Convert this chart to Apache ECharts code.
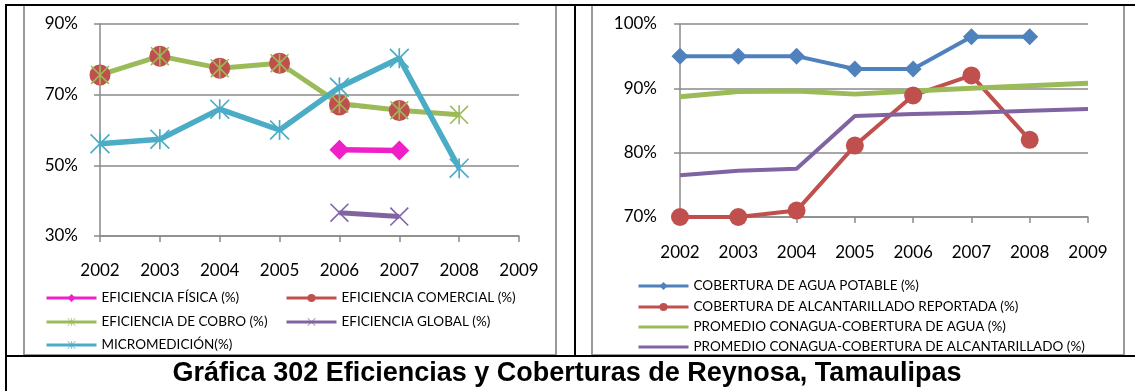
<!DOCTYPE html>
<html><head><meta charset="utf-8">
<script src="https://cdn.jsdelivr.net/npm/echarts@6/dist/echarts.min.js"></script>
<style>html,body{margin:0;padding:0;background:#fff}#c{width:1135px;height:391px}</style>
</head><body><div id="c"></div>
<script>
// ---- data ----
const years = ['2002','2003','2004','2005','2006','2007','2008','2009'];
// left chart: Eficiencias (%)
const eficienciaFisica     = [null, null, null, null, 54.4, 54.2, null, null];
const eficienciaComercial  = [75.6, 80.9, 77.5, 78.9, 67.1, 65.5, null, null];
const eficienciaCobro      = [75.6, 80.9, 77.5, 78.9, 67.5, 65.6, 64.3, null];
const eficienciaGlobal     = [null, null, null, null, 36.6, 35.5, null, null];
const micromedicion        = [56.1, 57.4, 65.9, 60.0, 72.1, 80.3, 49.2, null];
// right chart: Coberturas (%)
const coberturaAgua        = [95, 95, 95, 93, 93, 98, 98, null];
const coberturaAlcant      = [70, 70, 71, 81.1, 88.9, 92, 82, null];
const promedioAgua         = [88.7, 89.5, 89.6, 89.1, 89.6, 90.0, 90.4, 90.8];
const promedioAlcant       = [76.5, 77.2, 77.5, 85.7, 86.0, 86.2, 86.5, 86.8];
const leftTicks  = {min: 30, max: 90, interval: 20};
const rightTicks = {min: 70, max: 100, interval: 10};
const names = {
  fis: 'EFICIENCIA FÍSICA (%)', com: 'EFICIENCIA COMERCIAL (%)', cob: 'EFICIENCIA DE COBRO (%)',
  glo: 'EFICIENCIA GLOBAL (%)', mic: 'MICROMEDICIÓN(%)',
  agua: 'COBERTURA DE AGUA POTABLE (%)', alc: 'COBERTURA DE ALCANTARILLADO REPORTADA (%)',
  pAgua: 'PROMEDIO CONAGUA-COBERTURA DE AGUA (%)', pAlc: 'PROMEDIO CONAGUA-COBERTURA DE ALCANTARILLADO (%)'
};
const titleText = 'Gráfica 302 Eficiencias y Coberturas de Reynosa, Tamaulipas';

// ---- styles ----
const FONT = 'Lato';
const GRID_GRAY = '#8a8a8a';
const ASTER = 'path://M11 0H13V24H11Z M0 1.4L1.4 0L24 22.6L22.6 24Z M22.6 0L24 1.4L1.4 24L0 22.6Z';
const XMARK = 'path://M0 1.4L1.4 0L24 22.6L22.6 24Z M22.6 0L24 1.4L1.4 24L0 22.6Z';

function line(name, data, color, width, symbol, size, xi) {
  return {
    type: 'line', name, data, xAxisIndex: xi, yAxisIndex: xi,
    symbol, symbolSize: size, showSymbol: symbol !== 'none', showAllSymbol: true,
    connectNulls: false, animation: false,
    lineStyle: {color, width}, itemStyle: {color, borderWidth: 0},
    emphasis: {disabled: true}
  };
}

function xAxis(gi, margin) {
  return {
    type: 'category', gridIndex: gi, data: years, boundaryGap: false,
    axisLine: {show: true, lineStyle: {color: GRID_GRAY, width: 1.5}},
    axisTick: {show: true, length: 6, alignWithLabel: true, lineStyle: {color: GRID_GRAY, width: 1.5}},
    axisLabel: {color: '#000', fontFamily: FONT, fontSize: 17, margin, interval: 0},
    splitLine: {show: false}
  };
}
function yAxis(gi, t, margin) {
  return {
    type: 'value', gridIndex: gi, min: t.min, max: t.max, interval: t.interval,
    axisLine: {show: true, lineStyle: {color: GRID_GRAY, width: 1.5}},
    axisTick: {show: true, length: 6, lineStyle: {color: GRID_GRAY, width: 1.5}},
    axisLabel: {color: '#000', fontFamily: FONT, fontSize: 17, margin, formatter: '{value}%'},
    splitLine: {show: true, lineStyle: {color: GRID_GRAY, width: 1.5}}
  };
}
function leg(name, x, yc, fs, noMarker) {
  const o = {
    data: [name], left: x, top: yc - 8, padding: 0, itemGap: 0,
    itemWidth: 50, itemHeight: 10,
    lineStyle: {width: 3},
    textStyle: {fontFamily: FONT, fontSize: fs, color: '#000', lineHeight: 16},
    selectedMode: false
  };
  if (noMarker) o.itemStyle = {opacity: 0};
  return o;
}

const chart = echarts.init(document.getElementById('c'), null, {renderer: 'canvas'});
chart.setOption({
  animation: false,
  backgroundColor: '#fff',
  grid: [
    {left: 100, top: 24, width: 419, height: 212},
    {left: 680, top: 24, width: 408, height: 193}
  ],
  xAxis: [xAxis(0, 26), xAxis(1, 27)],
  yAxis: [yAxis(0, leftTicks, 22), yAxis(1, rightTicks, 23)],
  legend: [
    leg(names.fis, 45, 298, 13.5), leg(names.com, 285, 298, 13.5),
    leg(names.cob, 45, 322, 13.5), leg(names.glo, 285, 322, 13.5),
    leg(names.mic, 45, 345, 13.5),
    leg(names.agua, 637, 286, 13.5), leg(names.alc, 637, 307, 13.5),
    leg(names.pAgua, 637, 327, 13.5, true), leg(names.pAlc, 637, 347, 13.5, true)
  ],
  series: [
    line(names.fis, eficienciaFisica, '#F020C8', 5.5, 'diamond', 20, 0),
    line(names.com, eficienciaComercial, '#C0504D', 2.5, 'circle', 21, 0),
    line(names.cob, eficienciaCobro, '#9BBB59', 5, ASTER, 19, 0),
    line(names.glo, eficienciaGlobal, '#8064A2', 5, XMARK, 19, 0),
    line(names.mic, micromedicion, '#4BACC6', 5.5, ASTER, 20, 0),
    line(names.agua, coberturaAgua, '#4F81BD', 4, 'diamond', 17, 1),
    line(names.alc, coberturaAlcant, '#C0504D', 4, 'circle', 18, 1),
    line(names.pAgua, promedioAgua, '#9BBB59', 5, 'none', 0, 1),
    line(names.pAlc, promedioAlcant, '#8064A2', 4, 'none', 0, 1)
  ],
  graphic: [
    {type: 'rect', silent: true, z: -1, shape: {x: 24, y: 5, width: 532, height: 350}, style: {fill: 'none', stroke: '#9a9a9a', lineWidth: 2}},
    {type: 'rect', silent: true, z: -1, shape: {x: 592, y: 5, width: 532, height: 350}, style: {fill: 'none', stroke: '#9a9a9a', lineWidth: 2}},
    {type: 'rect', silent: true, shape: {x: 5, y: 4, width: 1130, height: 2}, style: {fill: '#000'}},
    {type: 'rect', silent: true, shape: {x: 5, y: 4, width: 2, height: 387}, style: {fill: '#000'}},
    {type: 'rect', silent: true, shape: {x: 574, y: 4, width: 2, height: 352}, style: {fill: '#000'}},
    {type: 'rect', silent: true, shape: {x: 5, y: 355, width: 1130, height: 2}, style: {fill: '#000'}},
    {type: 'text', silent: true, x: 567, y: 374, style: {text: titleText, fill: '#000', font: 'bold 27px "Liberation Sans", Arial, sans-serif', textAlign: 'center', textVerticalAlign: 'middle'}}
  ]
});
</script>
</body></html>
